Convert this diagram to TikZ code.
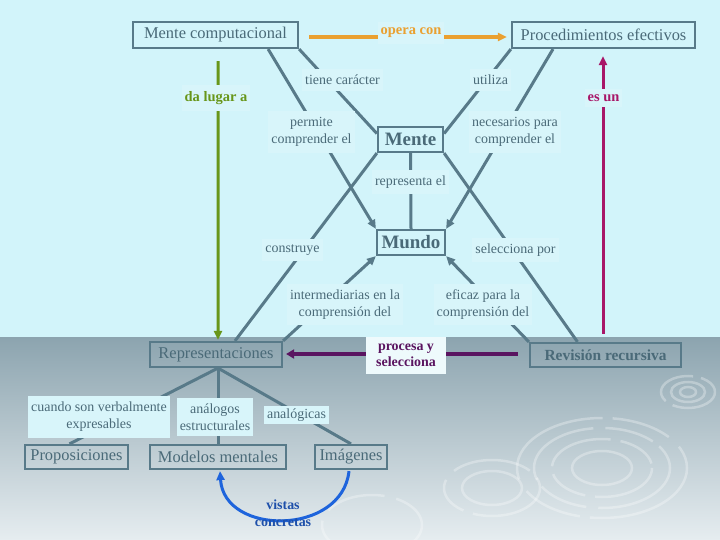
\documentclass[tikz,border=0pt]{standalone}
\usepackage{fontspec}
\setmainfont{Liberation Serif}
\usetikzlibrary{arrows.meta,calc}
\pgfdeclarelayer{back}
\pgfdeclarelayer{lines}
\pgfsetlayers{back,lines,main}

\definecolor{bgtop}{RGB}{210,244,250}
\definecolor{bglowA}{RGB}{140,164,175}
\definecolor{bglowB}{RGB}{230,237,240}
\definecolor{cline}{RGB}{88,122,137}
\definecolor{ctext}{RGB}{74,106,120}
\definecolor{lblfill}{RGB}{216,245,250}
\definecolor{corange}{RGB}{234,160,48}
\definecolor{cgreen}{RGB}{104,150,26}
\definecolor{cmagenta}{RGB}{168,22,104}
\definecolor{cpurple}{RGB}{90,20,96}
\definecolor{cblue}{RGB}{30,100,220}
\definecolor{cbluetext}{RGB}{30,80,170}
\definecolor{procfill}{RGB}{238,250,252}

\begin{document}
\begin{tikzpicture}[x=1bp,y=-1bp,
  concept/.style={draw=cline, line width=2.2bp, inner sep=0pt, text=ctext,
    font=\fontsize{16.5}{19}\selectfont},
  bigconcept/.style={concept, font=\fontsize{19}{22}\selectfont\bfseries},
  lbl/.style={fill=lblfill, text=ctext, inner xsep=3bp, inner ysep=6bp,
    align=center, font=\fontsize{14}{17}\selectfont},
  boldlbl/.style={lbl, font=\fontsize{14.5}{17}\selectfont\bfseries},
  conn/.style={draw=cline, line width=3bp},
  arr/.style={-{Triangle[length=9bp,width=8bp]}},
  ripple/.style={draw=white, opacity=0.3, line width=2.5bp},
]
\useasboundingbox (0,0) rectangle (720,540);

\begin{pgfonlayer}{back}
  \fill[bgtop] (0,0) rectangle (720,337);
  \shade[top color=bglowA, bottom color=bglowB] (0,337) rectangle (720,540);
  % ripples
  \draw[ripple, dash pattern=on 120bp off 10bp on 60bp off 14bp] (602,468) ellipse [x radius=85, y radius=50];
  \draw[ripple, dash pattern=on 90bp off 12bp on 50bp off 8bp] (602,468) ellipse [x radius=68, y radius=40];
  \draw[ripple, dash pattern=on 70bp off 10bp on 40bp off 8bp] (602,468) ellipse [x radius=50, y radius=29];
  \draw[ripple] (602,468) ellipse [x radius=30, y radius=17];
  \draw[ripple, dash pattern=on 50bp off 8bp] (688,392) ellipse [x radius=27, y radius=16];
  \draw[ripple] (688,392) ellipse [x radius=17, y radius=10];
  \draw[ripple] (688,392) ellipse [x radius=8, y radius=5];
  \draw[ripple, dash pattern=on 80bp off 10bp on 40bp off 12bp] (492,488) ellipse [x radius=48, y radius=28];
  \draw[ripple] (492,488) ellipse [x radius=30, y radius=17];
  \draw[ripple, dash pattern=on 60bp off 12bp] (372,525) ellipse [x radius=50, y radius=30];
\end{pgfonlayer}

% concepts
\node[concept, minimum width=165bp, minimum height=26bp] (mc) at (215.5,35) {Mente computacional};
\node[concept, minimum width=183bp, minimum height=26bp] (pe) at (603.5,35) {Procedimientos efectivos};
\node[bigconcept, minimum width=65bp, minimum height=25bp] (mente) at (410.5,139.5) {Mente};
\node[bigconcept, minimum width=68bp, minimum height=25bp] (mundo) at (411,242.5) {Mundo};
\node[concept, minimum width=132bp, minimum height=25bp] (rep) at (216,354.5) {Representaciones};
\node[concept, minimum width=151bp, minimum height=24bp, font=\fontsize{15.5}{18}\selectfont\bfseries] (rev) at (605.5,355) {Revisión recursiva};
\node[concept, minimum width=103bp, minimum height=24bp] (prop) at (76.5,457) {Proposiciones};
\node[concept, minimum width=136bp, minimum height=24bp] (mm) at (218,457) {Modelos mentales};
\node[concept, minimum width=72bp, minimum height=24bp] (img) at (351,457) {Imágenes};

% labels
\node[boldlbl, text=corange] (opera) at (411,33) {opera con};
\node[lbl] (tiene) at (342.5,80) {tiene carácter};
\node[lbl] (utiliza) at (490.5,80) {utiliza};
\node[boldlbl, text=cgreen] (dalugar) at (216,98) {da lugar a};
\node[boldlbl, text=cmagenta] (esun) at (603.5,98) {es un};
\node[lbl] (permite) at (311.5,132) {permite\\comprender el};
\node[lbl] (necesarios) at (515,132) {necesarios para\\comprender el};
\node[lbl] (representa) at (410.5,182) {representa el};
\node[lbl] (construye) at (292.5,250) {construye};
\node[lbl] (selecciona) at (515.5,250) {selecciona por};
\node[lbl] (interm) at (345,304.5) {intermediarias en la\\comprensión del};
\node[lbl] (eficaz) at (483,304.5) {eficaz para la\\comprensión del};
\node[fill=procfill, text=cpurple, inner sep=0pt, minimum width=80bp, minimum height=37bp,
  align=center, font=\fontsize{14}{16}\selectfont\bfseries] (procesa) at (406,355.5) {procesa y\\selecciona};
\node[lbl] (cuando) at (99,417) {cuando son verbalmente\\expresables};
\node[lbl] (analogos) at (215,417) {análogos\\estructurales};
\node[lbl, inner ysep=3bp] (analogicas) at (296.5,415) {analógicas};
\node[text=cbluetext, align=center, inner sep=0pt, font=\fontsize{14}{17}\selectfont\bfseries] (vistas) at (283,513) {vistas\\concretas};

% connectors
\begin{pgfonlayer}{lines}
  \draw[conn] (mc.south east) -- (mente.170);
  \draw[conn, arr] (mc.-15) -- (mundo.north west);
  \draw[conn] (pe.south west) -- (mente.10);
  \draw[conn, arr] ($(pe.south)+(-50.5,0)$) -- (mundo.north east);
  \draw[conn] (mente.south) -- (mundo.north);
  \draw[conn] (mente.south west) -- ($(rep.north)+(19,0)$);
  \draw[conn] (mente.south east) -- ($(rev.north)+(-28,0)$);
  \draw[conn, arr] (rep.north east) -- (mundo.south west);
  \draw[conn, arr] (rev.north west) -- (mundo.south east);
  \draw[conn] ($(rep.south)+(2,0)$) -- ($(prop.north)+(-7,0)$);
  \draw[conn] ($(rep.south)+(2,0)$) -- (mm.north);
  \draw[conn] ($(rep.south)+(2,0)$) -- (img.north);
  \draw[line width=3bp, cgreen, arr] ($(mc.south)+(2.5,12)$) -- ($(rep.north)+(2,-1)$);
  \draw[line width=3bp, cmagenta, arr] ($(rev.north)+(-2.5,-8)$) -- ($(pe.south)+(-0.5,7)$);
  \draw[line width=3.5bp, corange, arr] ($(mc.east)+(10,2)$) -- ($(pe.west)+(-4,2)$);
  \draw[line width=4.5bp, cpurple, -{Triangle[length=8bp,width=9bp]}] ($(rev.west)+(-11,-1)$) -- ($(rep.east)+(3,-0.5)$);
  \draw[line width=3bp, cblue, arr] ($(img.south)+(-2,1)$) .. controls (342,536) and (224,536) .. ($(mm.south)+(2,1)$);
\end{pgfonlayer}
\end{tikzpicture}
\end{document}
